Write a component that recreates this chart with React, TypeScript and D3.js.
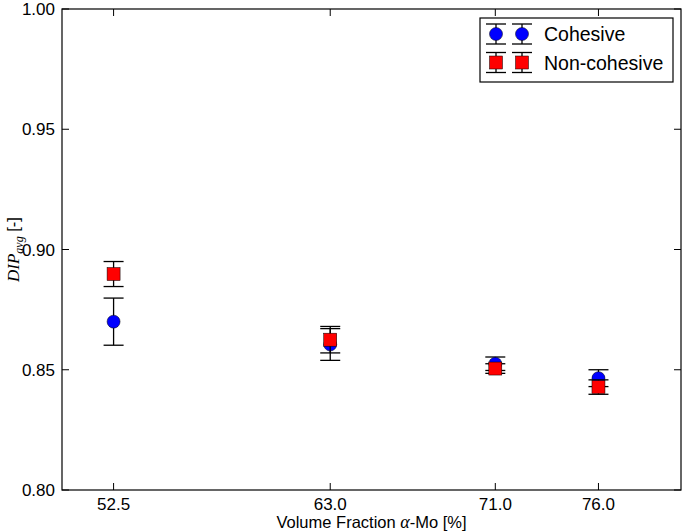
import React from 'react';
import * as d3 from 'd3';

// volume fraction of alpha-Mo [%]
const fractions = [52.5, 63.0, 71.0, 76.0];
const cohesiveMean = [0.870, 0.8605, 0.8525, 0.8465];
const cohesiveErr = [0.0098, 0.0066, 0.0028, 0.0035];
const nonCohesiveMean = [0.8898, 0.8625, 0.8505, 0.8428];
const nonCohesiveErr = [0.0052, 0.0055, 0.002, 0.003];
const yTicks = [0.8, 0.85, 0.9, 0.95, 1.0];

const W = 685;
const H = 532;
const margin = { left: 62, right: 4, top: 9, bottom: 42 };
const sans = '"Liberation Sans", Arial, Helvetica, sans-serif';
const serif = '"Liberation Serif", "Times New Roman", serif';

export default function App() {
  const x = d3.scaleLinear().domain([50, 80]).range([margin.left, W - margin.right]);
  const y = d3.scaleLinear().domain([0.8, 1.0]).range([H - margin.bottom, margin.top]);
  const x0 = margin.left;
  const x1 = W - margin.right;
  const y0 = H - margin.bottom;
  const y1 = margin.top;
  const tickLen = 7;
  const cap = 10;

  const series = [
    { name: 'Cohesive', mean: cohesiveMean, err: cohesiveErr, color: '#0000ff', shape: 'circle' },
    { name: 'Non-cohesive', mean: nonCohesiveMean, err: nonCohesiveErr, color: '#ff0000', shape: 'square' },
  ];

  const marker = (shape: string, color: string, cx: number, cy: number, key: string) =>
    shape === 'circle' ? (
      <circle key={key} cx={cx} cy={cy} r={6.5} fill={color} stroke="#000" strokeWidth={0.5} />
    ) : (
      <rect key={key} x={cx - 6.5} y={cy - 6.5} width={13} height={13} fill={color} stroke="#000" strokeWidth={0.5} />
    );

  const errBar = (cx: number, top: number, bottom: number, key: string) => (
    <g key={key} stroke="#000" strokeWidth={1.3} fill="none">
      <line x1={cx} x2={cx} y1={top} y2={bottom} />
      <line x1={cx - cap} x2={cx + cap} y1={top} y2={top} />
      <line x1={cx - cap} x2={cx + cap} y1={bottom} y2={bottom} />
    </g>
  );

  return (
    <svg width={W} height={H} style={{ position: 'absolute', left: 0, top: 0, background: '#fff' }}>
      <rect width={W} height={H} fill="#fff" />

      {/* data */}
      {series.map((s) => (
        <g key={s.name}>
          {fractions.map((f, i) => {
            const cx = x(f);
            return (
              <g key={i}>
                {errBar(cx, y(s.mean[i] + s.err[i]), y(s.mean[i] - s.err[i]), 'e' + i)}
                {marker(s.shape, s.color, cx, y(s.mean[i]), 'm' + i)}
              </g>
            );
          })}
        </g>
      ))}

      {/* axes frame */}
      <rect x={x0} y={y1} width={x1 - x0} height={y0 - y1} fill="none" stroke="#000" strokeWidth={1.2} />

      {/* x ticks */}
      {fractions.map((f) => (
        <g key={f}>
          <line x1={x(f)} x2={x(f)} y1={y0} y2={y0 - tickLen} stroke="#000" />
          <line x1={x(f)} x2={x(f)} y1={y1} y2={y1 + tickLen} stroke="#000" />
          <text x={x(f)} y={y0 + 20} textAnchor="middle" fontFamily={sans} fontSize={17} fill="#000">
            {f.toFixed(1)}
          </text>
        </g>
      ))}

      {/* y ticks */}
      {yTicks.map((t) => (
        <g key={t}>
          <line x1={x0} x2={x0 + tickLen} y1={y(t)} y2={y(t)} stroke="#000" />
          <line x1={x1} x2={x1 - tickLen} y1={y(t)} y2={y(t)} stroke="#000" />
          <text x={x0 - 7} y={y(t) + 6} textAnchor="end" fontFamily={sans} fontSize={17} fill="#000">
            {t.toFixed(2)}
          </text>
        </g>
      ))}

      {/* axis labels */}
      <text x={(x0 + x1) / 2} y={H - 4} textAnchor="middle" fontFamily={sans} fontSize={16.5} fill="#000">
        Volume Fraction <tspan fontFamily={serif} fontStyle="italic" fontSize={18}>α</tspan>-Mo [%]
      </text>
      <text
        transform={`translate(19, ${(y0 + y1) / 2}) rotate(-90)`}
        textAnchor="middle"
        fontFamily={sans}
        fontSize={16.5}
        fill="#000"
      >
        <tspan fontFamily={serif} fontStyle="italic" fontSize={17}>DIP</tspan>
        <tspan fontFamily={serif} fontStyle="italic" fontSize={12} dy={4}>avg</tspan>
        <tspan dy={-4}> [-]</tspan>
      </text>

      {/* legend */}
      <g>
        <rect x={480} y={18} width={193} height={64} fill="#fff" stroke="#000" strokeWidth={1.2} />
        {series.map((s, r) => {
          const cy = 34 + r * 28.5;
          return (
            <g key={s.name}>
              {[496, 522].map((lx, j) => (
                <g key={j}>
                  {errBar(lx, cy - 10, cy + 10, 'le' + j)}
                  {marker(s.shape, s.color, lx, cy, 'lm' + j)}
                </g>
              ))}
              <text x={544} y={cy + 7} fontFamily={sans} fontSize={19.5} fill="#000">
                {s.name}
              </text>
            </g>
          );
        })}
      </g>
    </svg>
  );
}
